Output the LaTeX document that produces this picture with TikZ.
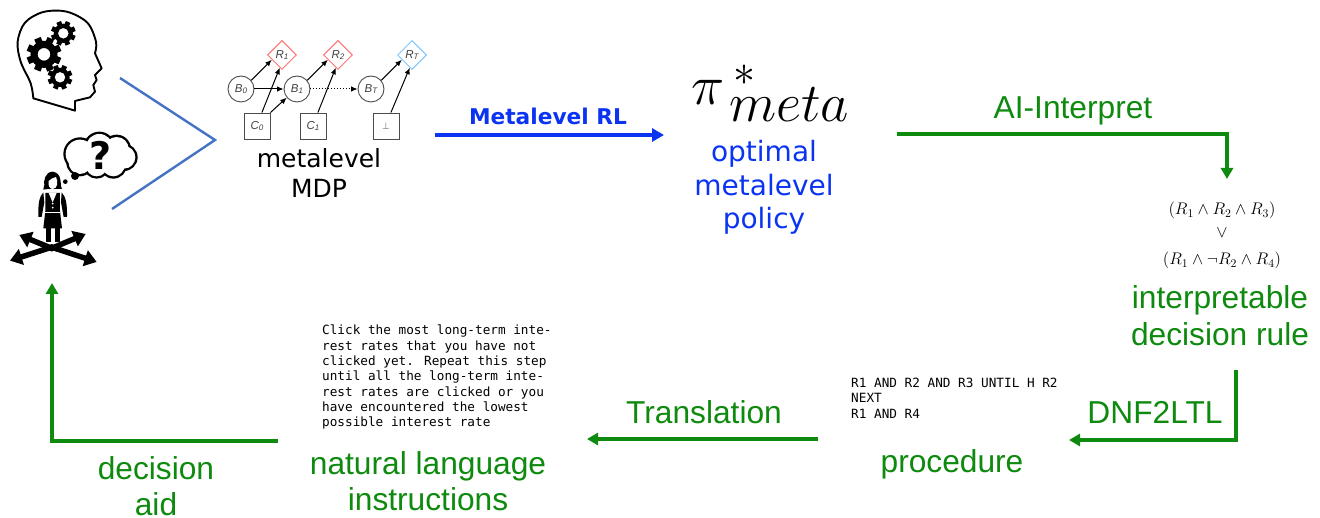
\documentclass[tikz,border=0pt]{standalone}
\usepackage{fix-cm}
\usepackage{fontspec}
\setmainfont{DejaVu Sans}
\newfontfamily\monof{DejaVu Sans Mono}
\newfontfamily\helv{Liberation Sans}
\usetikzlibrary{arrows.meta,shapes.geometric}
\definecolor{grn}{HTML}{0E8A0E}
\definecolor{blu}{HTML}{0A33F2}
\definecolor{lineblue}{HTML}{4472C4}
\newcommand{\fs}[1]{\fontsize{#1}{#1}\selectfont}
\newcommand{\lab}[2]{{\helv\fs{11.5}\itshape #1\raisebox{-1.5pt}{\fs{8}#2}}}
\newcommand{\gear}[4]{% x,y,outer,hole
  \fill[even odd rule] (#1,#2) circle[radius=#3*0.78] (#1,#2) circle[radius=#4];
  \foreach \a in {0,45,...,315}{
    \fill[rotate around={\a+22:(#1,#2)}] (#1-#3*0.2,#2-#3*0.7) rectangle (#1+#3*0.2,#2-#3);
  }
}
\tikzset{
  lbl/.style={font=\helv\fs{31.7}, text=grn, inner sep=0pt, anchor=base},
  lblb/.style={font=\fs{28}, text=blu, inner sep=0pt, anchor=base},
  greenarrow/.style={draw=grn, line width=3.5pt, -{Triangle[length=11pt,width=12pt]}},
  bluearrow/.style={draw=blu, line width=3.5pt, -{Triangle[length=12pt,width=13pt]}},
  mono/.style={font=\monof\fs{12.7}, inner sep=0pt, anchor=base west},
  circ/.style={circle, draw=black!70, line width=0.9pt, minimum size=26pt, inner sep=0pt, text=black!75},
  sq/.style={rectangle, draw=black!70, line width=0.9pt, minimum size=26pt, inner sep=0pt, text=black!75},
  rew/.style={diamond, aspect=1, line width=1pt, minimum size=29pt, inner sep=0pt, text=black!75},
  mdp/.style={-{Latex[length=6.5pt,width=5.5pt]}, line width=1pt, black},
  formula/.style={font=\fs{16.8}, inner sep=0pt, anchor=base},
  darrow/.style={line width=5.5pt, -{Triangle[length=12pt,width=16pt]}},
}
\begin{document}
\begin{tikzpicture}[x=1pt,y=-1pt]
\useasboundingbox (0,0) rectangle (1320,518);
% head icon
\begin{scope}[x=0.3333pt,y=-0.3333pt]
  \draw[line width=1.9pt, line join=round] plot[smooth, tension=0.55] coordinates {(100,295) (92,250) (62,185) (53,125) (75,68) (130,36) (200,35) (262,68) (288,125) (285,160)}
    -- (305,205) -- (285,225) -- (290,240) -- (280,255) -- (285,275) -- (270,292) -- (225,303) -- (225,332) -- (100,295) -- cycle;
  \gear{132}{163}{52}{19}
  \gear{190}{100}{37}{16}
  \gear{180}{232}{37}{16}
  % thought cloud
  \foreach \x/\y/\r in {240/462/43, 298/442/40, 350/447/36, 372/472/34, 340/495/34, 290/497/32, 240/488/34}{
    \fill (\x,\y) circle[radius=\r+7];
  }
  \foreach \x/\y/\r in {240/462/43, 298/442/40, 350/447/36, 372/472/34, 340/495/34, 290/497/32, 240/488/34}{
    \fill[white] (\x,\y) circle[radius=\r];
  }
  \fill[white] (240,440) rectangle (370,500);
  \fill (225,528) circle[radius=12];
  \fill (196,545) circle[radius=7];
  \node[inner sep=0pt, font=\bfseries\fs{38}] (qmark) at (303,466) {?};
  % woman, drawn in the coordinates of a close crop
  \begin{scope}[shift={(30,495)}]
    \draw[darrow] (130,245) -- (0,287);
    \draw[darrow] (120,245) -- (260,291);
    \draw[darrow] (130,252) -- (28,210);
    \draw[darrow] (120,252) -- (227,207);
    \fill (128,20) .. controls (105,20) and (100,50) .. (103,60) .. controls (103,68) and (98,72) .. (100,74) -- (116,72) -- (140,72) -- (156,72) .. controls (148,60) and (160,25) .. (128,20) -- cycle;
    \fill[white] (116,48) .. controls (122,42) and (130,38) .. (138,36) .. controls (146,50) and (142,72) .. (128,72) .. controls (118,72) and (114,60) .. (116,48) -- cycle;
    \fill (106,84) -- (150,84) -- (150,138) -- (156,190) -- (100,190) -- (106,138) -- cycle;
    \fill (107,185) rectangle (122,232);
    \fill (135,185) rectangle (150,232);
    \fill (100,82) .. controls (88,95) and (84,115) .. (85,156) -- (95,156) -- (103,112) -- cycle;
    \fill (155,82) .. controls (167,95) and (172,115) .. (171,156) -- (161,156) -- (153,112) -- cycle;
    \fill[white] (116,84) -- (128,112) -- (140,84) -- cycle;
    \fill[white] (128,116) circle[radius=3];
    \fill[white] (128,128) circle[radius=3];
    \draw[white, line width=0.5pt] (106,143) -- (150,143);
  \end{scope}
\end{scope}
% blue chevron
\coordinate (chevtop) at (120,78);
\coordinate (chevtip) at (215,140);
\coordinate (chevbot) at (112,209);
\draw[lineblue, line width=2.4pt, line join=miter] (chevtop) -- (chevtip) -- (chevbot);
% MDP
\node[rew, draw=red!55!white] (R1) at (282,55) {\lab{R}{1}};
\node[rew, draw=red!55!white] (R2) at (338,55) {\lab{R}{2}};
\node[rew, draw=blue!45!cyan!50!white] (RT) at (412,55) {\lab{R}{T}};
\node[circ] (B0) at (241,89) {\lab{B}{0}};
\node[circ] (B1) at (297,89) {\lab{B}{1}};
\node[circ] (BT) at (371,89) {\lab{B}{T}};
\node[sq] (C0) at (257,126) {\lab{C}{0}};
\node[sq] (C1) at (313,126) {\lab{C}{1}};
\node[sq] (bot) at (386,126) {$\perp$};
\draw[mdp] (B0.40) -- (R1.-155);
\draw[mdp] (C0.70) -- (R1.-100);
\draw[mdp] (B0.east) -- (B1.west);
\draw[mdp] (C0.north east) -- (B1.-140);
\draw[mdp] (B1.40) -- (R2.-155);
\draw[mdp] (C1.70) -- (R2.-100);
\draw[mdp, dotted] (B1.east) -- (BT.west);
\draw[mdp] (BT.40) -- (RT.-155);
\draw[mdp] (bot.70) -- (RT.-100);
\node[inner sep=0pt, font=\fs{25}, anchor=base] (mdplab) at (319,168) {metalevel};
\node[inner sep=0pt, font=\fs{25}, anchor=base] (mdplab2) at (319,198) {MDP};
% metalevel RL
\coordinate (rlstart) at (435,135);
\coordinate (rlend) at (664,135);
\draw[bluearrow] (rlstart) -- (rlend);
\node[inner sep=0pt, font=\bfseries\fs{21.7}, text=blu, anchor=base] (rl) at (548,125) {Metalevel RL};
% pi
\node[inner sep=0pt, font=\fs{56}, anchor=base west] (pi) at (691,105) {$\pi$};
\node[inner sep=0pt, font=\fs{44}, anchor=center] (star) at (744,75) {$*$};
\node[inner sep=0pt, font=\fs{55}, anchor=base west] (meta) at (729,122) {$meta$};
\node[lblb] (opt1) at (764,162) {optimal};
\node[lblb] (opt2) at (764,196) {metalevel};
\node[lblb] (opt3) at (764,229) {policy};
% AI interpret
\coordinate (aistart) at (897,134);
\coordinate (aicorner) at (1227,134);
\coordinate (aiend) at (1227,179);
\draw[greenarrow] (aistart) -- (aicorner) -- (aiend);
\node[lbl] (ai) at (1073,119) {AI-Interpret};
\node[formula] (f1) at (1222,215) {$(R_1\wedge R_2\wedge R_3)$};
\node[formula] (f2) at (1222,238) {$\vee$};
\node[formula] (f3) at (1222,265) {$(R_1\wedge \neg R_2\wedge R_4)$};
\node[lbl] (ir1) at (1220,309) {interpretable};
\node[lbl] (ir2) at (1220,346) {decision rule};
% DNF2LTL
\coordinate (dnfstart) at (1236,370);
\coordinate (dnfcorner) at (1236,440);
\coordinate (dnfend) at (1069,440);
\draw[greenarrow] (dnfstart) -- (dnfcorner) -- (dnfend);
\node[lbl] (dnf) at (1155,424) {DNF2LTL};
\node[mono] (p1) at (851,387.5) {R1 AND R2 AND R3 UNTIL H R2};
\node[mono] (p2) at (851,402.5) {NEXT};
\node[mono] (p3) at (851,418) {R1 AND R4};
\node[lbl] (proc) at (952,472) {procedure};
% Translation
\coordinate (trstart) at (818,439);
\coordinate (trend) at (587,439);
\draw[greenarrow] (trstart) -- (trend);
\node[lbl] (tr) at (704,424) {Translation};
\node[mono] (i1) at (322,335) {Click the most long-term inte-};
\node[mono] (i2) at (322,350.3) {rest rates that you have not};
\node[mono] (i3) at (322,365.6) {clicked yet. Repeat this step};
\node[mono] (i4) at (322,381) {until all the long-term inte-};
\node[mono] (i5) at (322,396.3) {rest rates are clicked or you};
\node[mono] (i6) at (322,411.6) {have encountered the lowest};
\node[mono] (i7) at (322,427) {possible interest rate};
\node[lbl] (nl1) at (428,474) {natural language};
\node[lbl] (nl2) at (428,510) {instructions};
% decision aid
\coordinate (dastart) at (278,441);
\coordinate (dacorner) at (52,441);
\coordinate (daend) at (52,283);
\draw[greenarrow] (dastart) -- (dacorner) -- (daend);
\node[lbl] (da1) at (156,479) {decision};
\node[lbl] (da2) at (156,515) {aid};
\end{tikzpicture}
\end{document}
